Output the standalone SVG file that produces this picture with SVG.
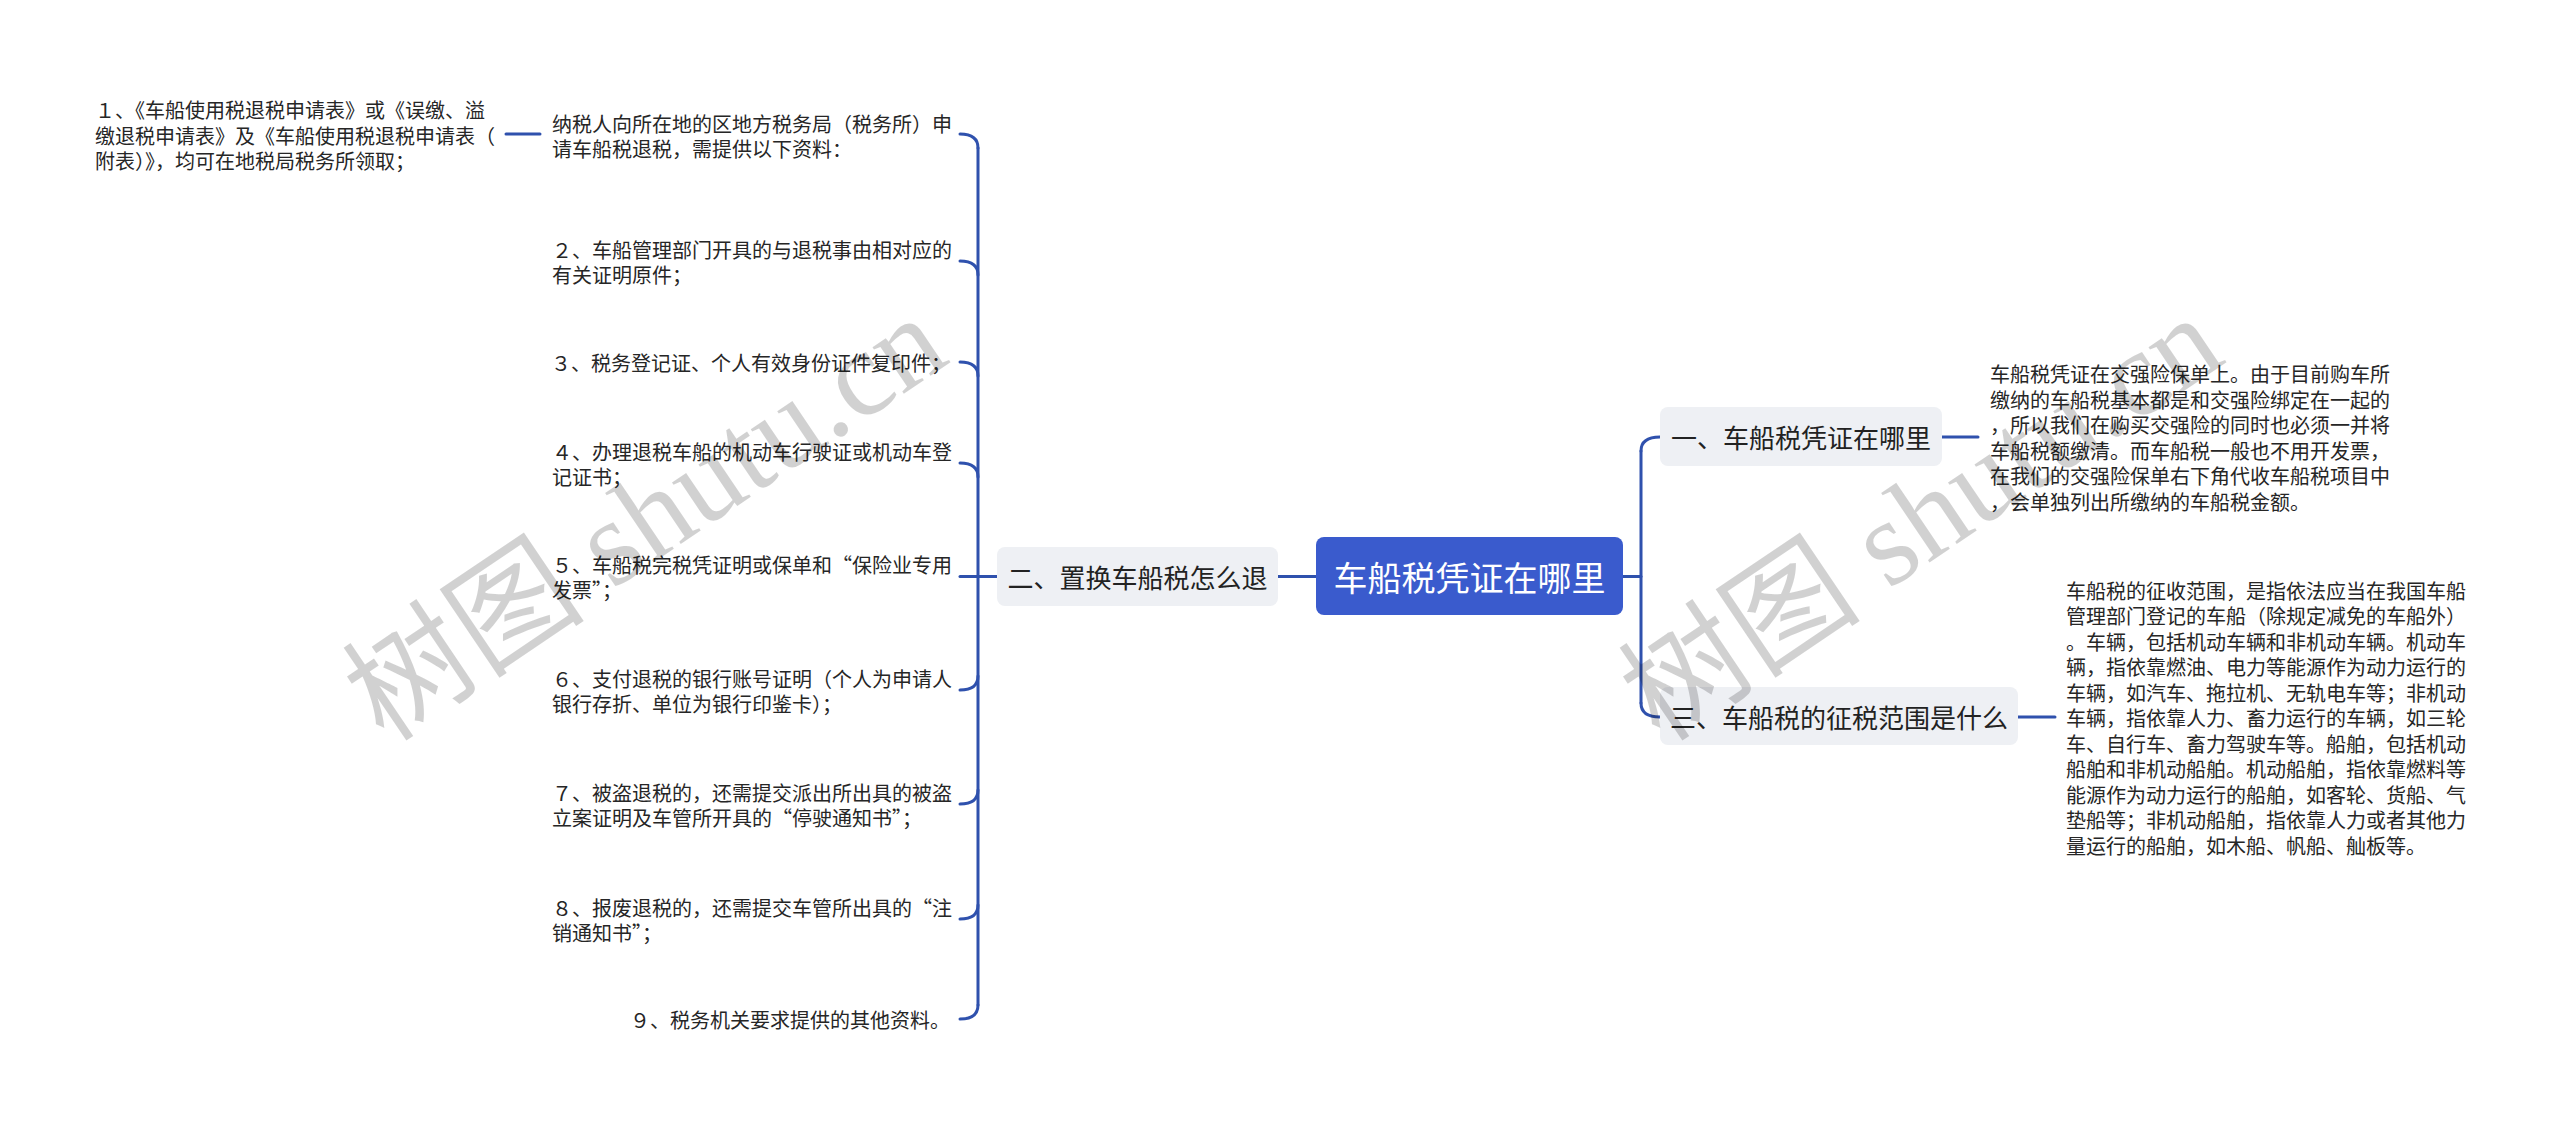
<svg xmlns="http://www.w3.org/2000/svg" width="2560" height="1127" viewBox="0 0 2560 1127">
<style>
.bg{fill:#ffffff}
.conn{fill:none;stroke:#2f51ad;stroke-width:3;stroke-linecap:round}
.root{fill:#3a5bcd}
.branch{fill:#eef0f4}
.rt{font-family:"Noto Sans CJK SC",sans-serif;font-size:34px;fill:#ffffff;text-anchor:middle;dominant-baseline:central}
.bt{font-family:"Noto Sans CJK SC",sans-serif;font-size:26px;fill:#222222;text-anchor:middle;dominant-baseline:central}
.lt{font-family:"Noto Sans CJK SC",sans-serif;font-size:20px;fill:#262626;dominant-baseline:central}
.wm{font-family:"Liberation Serif","Noto Sans CJK SC",serif;font-size:122px;fill:#000000;fill-opacity:0.18;text-anchor:middle;dominant-baseline:central}
</style>
<rect class="bg" x="0" y="0" width="2560" height="1127"/>
<g id="connectors">
<path class="conn" d="M1278 576.5 H1316"/>
<path class="conn" d="M960 576.5 H997"/>
<path class="conn" d="M978 148 V1005"/>
<path class="conn" d="M960 134 Q978 134 978 148"/>
<path class="conn" d="M960 261 Q978 261 978 275"/>
<path class="conn" d="M960 362 Q978 362 978 376"/>
<path class="conn" d="M960 463 Q978 463 978 477"/>
<path class="conn" d="M960 690 Q978 690 978 676"/>
<path class="conn" d="M960 804 Q978 804 978 790"/>
<path class="conn" d="M960 919 Q978 919 978 905"/>
<path class="conn" d="M960 1019 Q978 1019 978 1005"/>
<path class="conn" d="M506 134 H540"/>
<path class="conn" d="M1623 576.5 H1641"/>
<path class="conn" d="M1641 451 V703"/>
<path class="conn" d="M1660 437 Q1641 437 1641 451"/>
<path class="conn" d="M1660 717 Q1641 717 1641 703"/>
<path class="conn" d="M1942 437 H1978"/>
<path class="conn" d="M2018 717 H2055"/>
</g>
<g id="root">
<rect class="root" x="1316" y="537" width="307" height="78" rx="8"/>
<text class="rt" x="1469.5" y="576">车船税凭证在哪里</text>
</g>
<g id="branch-2">
<rect class="branch" x="997" y="547" width="281" height="59" rx="8"/>
<text class="bt" x="1137.5" y="576.5">二、置换车船税怎么退</text>
</g>
<g id="branch-1">
<rect class="branch" x="1660" y="407" width="282" height="59" rx="8"/>
<text class="bt" x="1801" y="436.5">一、车船税凭证在哪里</text>
</g>
<g id="branch-3">
<rect class="branch" x="1660" y="687" width="358" height="58" rx="8"/>
<text class="bt" x="1839" y="716">三、车船税的征税范围是什么</text>
</g>
<g id="leaf-a">
<text class="lt"><tspan x="552" y="123">纳税人向所在地的区地方税务局（税务所）申</tspan><tspan x="552" y="148">请车船税退税，需提供以下资料：</tspan></text>
</g>
<g id="leaf-1">
<text class="lt"><tspan x="95" y="109">１、《车船使用税退税申请表》或《误缴、溢</tspan><tspan x="95" y="134.5">缴退税申请表》及《车船使用税退税申请表（</tspan><tspan x="95" y="160">附表）》，均可在地税局税务所领取；</tspan></text>
</g>
<g id="leaf-2">
<text class="lt"><tspan x="552" y="248.5">２、车船管理部门开具的与退税事由相对应的</tspan><tspan x="552" y="273.5">有关证明原件；</tspan></text>
</g>
<g id="leaf-3">
<text class="lt"><tspan x="551" y="362">３、税务登记证、个人有效身份证件复印件；</tspan></text>
</g>
<g id="leaf-4">
<text class="lt"><tspan x="552" y="450.5">４、办理退税车船的机动车行驶证或机动车登</tspan><tspan x="552" y="475.5">记证书；</tspan></text>
</g>
<g id="leaf-5">
<text class="lt"><tspan x="552" y="564">５、车船税完税凭证明或保单和“保险业专用</tspan><tspan x="552" y="589">发票”；</tspan></text>
</g>
<g id="leaf-6">
<text class="lt"><tspan x="552" y="677.5">６、支付退税的银行账号证明（个人为申请人</tspan><tspan x="552" y="702.5">银行存折、单位为银行印鉴卡）；</tspan></text>
</g>
<g id="leaf-7">
<text class="lt"><tspan x="552" y="791.5">７、被盗退税的，还需提交派出所出具的被盗</tspan><tspan x="552" y="816.5">立案证明及车管所开具的“停驶通知书”；</tspan></text>
</g>
<g id="leaf-8">
<text class="lt"><tspan x="552" y="906.5">８、报废退税的，还需提交车管所出具的“注</tspan><tspan x="552" y="931.5">销通知书”；</tspan></text>
</g>
<g id="leaf-9">
<text class="lt"><tspan x="630" y="1019">９、税务机关要求提供的其他资料。</tspan></text>
</g>
<g id="leaf-r1">
<text class="lt"><tspan x="1990" y="373">车船税凭证在交强险保单上。由于目前购车所</tspan><tspan x="1990" y="398.5">缴纳的车船税基本都是和交强险绑定在一起的</tspan><tspan x="1990" y="424">，所以我们在购买交强险的同时也必须一并将</tspan><tspan x="1990" y="449.5">车船税额缴清。而车船税一般也不用开发票，</tspan><tspan x="1990" y="475">在我们的交强险保单右下角代收车船税项目中</tspan><tspan x="1990" y="500.5">，会单独列出所缴纳的车船税金额。</tspan></text>
</g>
<g id="leaf-r3">
<text class="lt"><tspan x="2066" y="589.5">车船税的征收范围，是指依法应当在我国车船</tspan><tspan x="2066" y="615">管理部门登记的车船（除规定减免的车船外）</tspan><tspan x="2066" y="640.5">。车辆，包括机动车辆和非机动车辆。机动车</tspan><tspan x="2066" y="666">辆，指依靠燃油、电力等能源作为动力运行的</tspan><tspan x="2066" y="691.5">车辆，如汽车、拖拉机、无轨电车等；非机动</tspan><tspan x="2066" y="717">车辆，指依靠人力、畜力运行的车辆，如三轮</tspan><tspan x="2066" y="742.5">车、自行车、畜力驾驶车等。船舶，包括机动</tspan><tspan x="2066" y="768">船舶和非机动船舶。机动船舶，指依靠燃料等</tspan><tspan x="2066" y="793.5">能源作为动力运行的船舶，如客轮、货船、气</tspan><tspan x="2066" y="819">垫船等；非机动船舶，指依靠人力或者其他力</tspan><tspan x="2066" y="844.5">量运行的船舶，如木船、帆船、舢板等。</tspan></text>
</g>
<g id="watermarks">
<text class="wm" x="645" y="518" transform="rotate(-34 645 518)">树图 shutu.cn</text>
<text class="wm" x="1921" y="518" transform="rotate(-34 1921 518)">树图 shutu.cn</text>
</g>
</svg>
